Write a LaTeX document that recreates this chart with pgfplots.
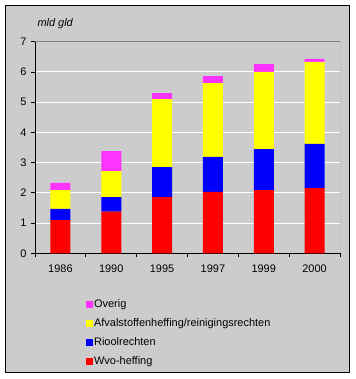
\documentclass[border=0pt]{standalone}
\usepackage{fontspec}
\setmainfont{Liberation Sans}
\usepackage{pgfplots}
\pgfplotsset{compat=1.18}
\definecolor{cWvo}{HTML}{FF0000}
\definecolor{cRiool}{HTML}{0000FF}
\definecolor{cAfval}{HTML}{FFFF00}
\definecolor{cOverig}{HTML}{FF33FF}
\definecolor{bg}{HTML}{CCCCCC}
\definecolor{frame}{HTML}{808080}
\pgfplotsset{mybar/.style={fill=#1, draw=none,
  legend image code/.code={\fill[#1] (0bp,-3.5bp) rectangle (7bp,3.5bp);}}}
\begin{document}
\begin{tikzpicture}
\fill[white] (0bp,0bp) rectangle (356bp,379bp);
\useasboundingbox (0bp,0bp) rectangle (356bp,379bp);
\filldraw[fill=bg, draw=black, line width=1bp] (5.3bp,6.7bp) rectangle (349.3bp,373.7bp);
\node[anchor=base west, font=\fontsize{11}{13}\selectfont\itshape, inner sep=0pt] at (37.3bp,352.5bp) {mld gld};
\begin{axis}[
  at={(35bp,125.7bp)}, anchor=south west,
  scale only axis, width=305bp, height=211.6bp,
  ybar stacked, bar width=20bp,
  xmin=-0.5, xmax=5.5, ymin=0, ymax=7,
  enlargelimits=false,
  axis background/.style={fill=bg},
  axis x line*=bottom, axis y line*=left,
  axis line style={black, line width=0.8bp, -},
  xtick={0,...,5},
  xticklabels={1986,1990,1995,1997,1999,2000},
  minor xtick={-0.5,0.5,...,5.5},
  ytick={0,...,7},
  tick align=outside,
  major x tick style={draw=none},
  minor x tick style={black, line width=0.8bp},
  y tick style={black, line width=0.8bp},
  major tick length=4bp, minor tick length=4bp,
  ymajorgrids, grid style={white, line width=1bp},
  ticklabel style={font=\fontsize{11}{13}\selectfont},
  /pgf/number format/assume math mode=true,
  xticklabel style={yshift=-4bp},
  yticklabel style={xshift=-1bp},
  reverse legend,
  legend style={at={(0.167,-0.214)}, anchor=north west, draw=none, fill=none,
    inner sep=0pt, row sep=7bp, font=\fontsize{11}{13}\selectfont,
    nodes={inner sep=1bp, text height=8bp, text depth=2bp},
    cells={anchor=west}},
]
\addplot[mybar=cWvo] coordinates {(0,1.10) (1,1.38) (2,1.86) (3,2.03) (4,2.09) (5,2.16)};
\addplot[mybar=cRiool] coordinates {(0,0.37) (1,0.48) (2,0.99) (3,1.16) (4,1.36) (5,1.46)};
\addplot[mybar=cAfval] coordinates {(0,0.62) (1,0.86) (2,2.25) (3,2.44) (4,2.55) (5,2.71)};
\addplot[mybar=cOverig] coordinates {(0,0.24) (1,0.66) (2,0.20) (3,0.23) (4,0.26) (5,0.10)};
\legend{Wvo-heffing,Rioolrechten,Afvalstoffenheffing/reinigingsrechten,Overig}
\draw[frame, line width=0.8bp] (rel axis cs:0,1) -- (rel axis cs:1,1) -- (rel axis cs:1,0);
\end{axis}
\end{tikzpicture}
\end{document}
